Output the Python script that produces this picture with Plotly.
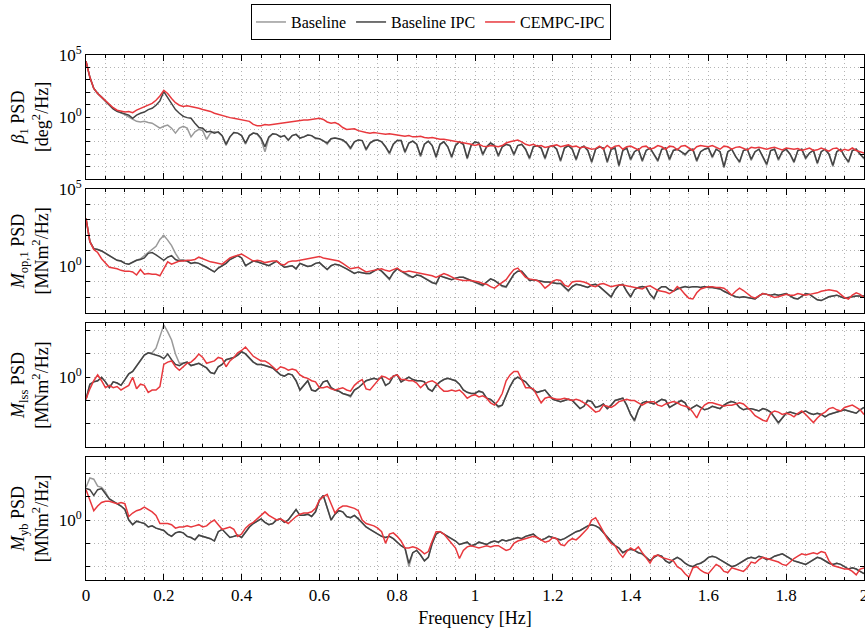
import plotly.graph_objects as go

# ---------------- data (log10 of PSD), frequency grid 0..2 Hz step 0.01 ----------------
freq = [i / 100 for i in range(201)]

beta_base_log10 = [
    4.5, 3.2, 2.3, 1.9, 1.6, 1.3, 0.95, 0.65, 0.45, 0.35,
    0.2, 0.0, -0.2, -0.35, -0.4, -0.35, -0.45, -0.5, -0.7, -0.9,
    -0.75, -0.65, -0.9, -1.3, -0.9, -0.75, -0.9, -1.6, -1.2, -1.0,
    -1.1, -1.8, -1.3, -1.2, -1.25, -1.5, -2.3, -1.6, -1.25, -1.3,
    -1.5, -2.2, -1.5, -1.3, -1.4, -1.8, -2.8, -1.7, -1.35, -1.4,
    -1.6, -1.5, -1.9, -1.5, -1.4, -1.7, -1.6, -1.45, -1.5, -1.75,
    -1.75, -1.9, -2.2, -1.75, -1.7, -1.75, -1.85, -2.1, -2.6, -2.0,
    -1.85, -1.9, -2.7, -2.1, -1.9, -1.85, -2.0, -2.4, -3.0, -2.2,
    -1.9, -1.9, -2.9, -2.1, -1.95, -2.2, -3.2, -2.2, -1.95, -2.3,
    -3.3, -2.2, -2.0, -2.4, -3.3, -2.3, -2.0, -2.2, -3.4, -2.3,
    -2.0, -2.1, -3.1, -2.4, -2.1, -2.3, -3.2, -2.4, -2.2, -2.3,
    -3.1, -2.3, -2.2, -2.6, -3.4, -2.4, -2.3, -2.5, -3.4, -2.4,
    -2.3, -2.6, -3.6, -2.5, -2.3, -2.6, -3.5, -2.5, -2.35, -2.7,
    -3.7, -2.6, -2.4, -2.5, -3.7, -2.6, -2.5, -4.0, -2.7, -2.5,
    -3.5, -2.8, -2.6, -3.6, -2.7, -2.5, -3.0, -3.6, -2.6, -2.5,
    -3.5, -2.7, -2.6, -2.8, -3.1, -2.7, -2.6, -3.6, -2.8, -2.6,
    -2.5, -3.3, -2.6, -2.8, -4.1, -2.8, -2.6, -3.2, -3.7, -2.7,
    -2.6, -3.5, -2.8, -2.6, -3.2, -3.9, -2.7, -2.6, -3.5, -2.8,
    -2.6, -3.0, -3.7, -2.7, -2.6, -3.4, -2.9, -2.7, -3.8, -2.8,
    -2.6, -3.0, -4.0, -2.8, -2.6, -3.2, -3.7, -2.7, -2.6, -3.0,
    -3.4]
beta_ipc_log10 = [
    4.5, 3.2, 2.3, 1.9, 1.6, 1.3, 0.95, 0.65, 0.45, 0.35,
    0.3, 0.15, -0.1, 0.15, 0.3, 0.4, 0.6, 0.7, 0.95, 1.3,
    2.05, 1.55, 1.0, 0.6, 0.3, 0.05, -0.05, -0.1, -0.5, -0.85,
    -0.9, -1.2, -1.15, -1.3, -1.2, -1.5, -2.2, -1.6, -1.25, -1.3,
    -1.5, -2.1, -1.5, -1.3, -1.35, -1.7, -2.4, -1.6, -1.35, -1.4,
    -1.6, -1.5, -1.85, -1.5, -1.4, -1.7, -1.6, -1.45, -1.5, -1.7,
    -1.75, -1.9, -2.1, -1.75, -1.7, -1.75, -1.85, -2.1, -2.5, -2.0,
    -1.85, -1.9, -2.6, -2.1, -1.9, -1.85, -2.0, -2.4, -2.9, -2.2,
    -1.9, -1.9, -2.8, -2.1, -1.95, -2.2, -3.1, -2.2, -1.95, -2.3,
    -3.2, -2.2, -2.0, -2.4, -3.2, -2.3, -2.0, -2.2, -3.3, -2.3,
    -2.0, -2.1, -3.0, -2.4, -2.1, -2.3, -3.1, -2.4, -2.2, -2.3,
    -3.0, -2.3, -2.2, -2.6, -3.3, -2.4, -2.3, -2.5, -3.3, -2.4,
    -2.3, -2.6, -3.5, -2.5, -2.3, -2.6, -3.4, -2.5, -2.35, -2.7,
    -3.6, -2.6, -2.4, -2.5, -3.6, -2.6, -2.5, -3.9, -2.7, -2.5,
    -3.4, -2.8, -2.6, -3.5, -2.7, -2.5, -3.0, -3.5, -2.6, -2.5,
    -3.4, -2.7, -2.6, -2.8, -3.0, -2.7, -2.6, -3.5, -2.8, -2.6,
    -2.5, -3.2, -2.6, -2.8, -4.0, -2.8, -2.6, -3.2, -3.6, -2.7,
    -2.6, -3.4, -2.8, -2.6, -3.2, -3.8, -2.7, -2.6, -3.4, -2.8,
    -2.6, -3.0, -3.6, -2.7, -2.6, -3.3, -2.9, -2.7, -3.7, -2.8,
    -2.6, -3.0, -3.9, -2.8, -2.6, -3.2, -3.6, -2.7, -2.6, -3.0,
    -3.3]
beta_cempc_log10 = [
    4.5, 3.2, 2.3, 1.9, 1.6, 1.3, 1.0, 0.75, 0.55, 0.45,
    0.4, 0.45, 0.35, 0.55, 0.7, 0.85, 0.95, 1.1, 1.35, 1.7,
    2.15, 1.9, 1.5, 1.15, 0.95, 0.85, 0.9, 0.85, 0.8, 0.7,
    0.6, 0.55, 0.45, 0.3, 0.2, 0.1, 0.05, -0.05, -0.1, -0.15,
    -0.2, -0.25, -0.35, -0.6, -0.7, -0.7, -0.6, -0.65, -0.6, -0.55,
    -0.55, -0.5, -0.45, -0.4, -0.35, -0.3, -0.25, -0.25, -0.2, -0.2,
    -0.1, -0.2, -0.4, -0.5, -0.45, -0.6, -0.85, -1.0, -1.0, -0.95,
    -1.1, -1.2, -1.25, -1.3, -1.25, -1.3, -1.35, -1.4, -1.35, -1.4,
    -1.45, -1.5, -1.55, -1.5, -1.6, -1.6, -1.55, -1.65, -1.7, -1.65,
    -1.75, -1.8, -1.8, -1.85, -1.9, -1.95, -2.0, -2.05, -2.1, -2.2,
    -2.3, -2.2, -2.35, -2.4, -2.3, -2.35, -2.4, -2.3, -2.1, -2.0,
    -1.9, -1.85, -2.0, -2.2, -2.3, -2.2, -2.35, -2.3, -2.45, -2.4,
    -2.3, -2.25, -2.4, -2.3, -2.25, -2.4, -2.35, -2.5, -2.4, -2.5,
    -2.6, -2.55, -2.35, -2.6, -2.3, -2.55, -2.35, -2.3, -2.6, -2.4,
    -2.35, -2.5, -2.65, -2.4, -2.35, -2.6, -2.5, -2.3, -2.4, -2.6,
    -2.35, -2.4, -2.65, -2.35, -2.3, -2.5, -2.7, -2.4, -2.3, -2.35,
    -2.4, -2.3, -2.45, -2.6, -2.35, -2.4, -2.6, -2.45, -2.4, -2.5,
    -2.65, -2.45, -2.5, -2.45, -2.5, -2.6, -2.5, -2.45, -2.55, -2.65,
    -2.5, -2.55, -2.6, -2.55, -2.7, -2.6, -2.5, -2.7, -2.65, -2.5,
    -2.6, -2.75, -2.55, -2.5, -2.75, -2.6, -2.7, -2.5, -2.7, -2.8,
    -2.9]

mop_base_log10 = [
    3.1, 1.6, 1.15, 1.1, 1.0, 0.85, 0.65, 0.5, 0.4, 0.35,
    0.2, 0.15, 0.3, 0.4, 0.5, 0.7, 0.95, 1.1, 1.3, 1.75,
    2.0, 1.7, 1.35, 0.85, 0.45, 0.4, 0.35, 0.2, 0.25, 0.2,
    0.1, -0.05, -0.2, -0.35, -0.1, 0.05, 0.2, 0.45, 0.6, 0.7,
    0.55, 0.05, 0.2, 0.35, 0.3, 0.2, 0.15, 0.05, 0.2, 0.35,
    0.15, -0.05, 0.0, 0.05, -0.15, 0.2, 0.1, 0.0, 0.05, 0.2,
    0.25, 0.0, -0.2, 0.05, 0.15, 0.1, 0.0, -0.15, -0.3, -0.45,
    -0.35, -0.4, -0.45, -0.45, -0.3, -0.15, -0.3, -0.55, -0.85, -0.4,
    -0.15, -0.3, -0.45, -0.65, -0.7, -0.55, -0.6, -0.75, -0.9, -1.05,
    -1.15, -0.6, -0.7, -0.8, -0.85, -0.75, -0.7, -0.7, -0.8, -0.9,
    -1.0, -1.15, -1.25, -1.0, -0.8, -0.9, -1.1, -1.3, -1.35, -0.9,
    -0.5, -0.3, -0.3, -0.6, -0.9, -0.85, -0.9, -0.95, -1.0, -1.0,
    -1.05, -1.1, -1.1, -1.35, -1.6, -1.3, -1.15, -1.2, -1.3, -1.35,
    -1.2, -1.15, -1.3, -1.5, -1.75, -2.0, -1.5, -1.2, -1.15, -1.6,
    -2.0, -1.5, -1.35, -1.3, -1.35, -1.8, -2.1, -1.5, -1.3, -1.3,
    -1.5, -1.6, -1.45, -1.35, -1.3, -1.35, -1.3, -1.3, -1.35, -1.3,
    -1.35, -1.35, -1.4, -1.45, -1.6, -1.75, -1.85, -1.95, -2.0, -1.95,
    -2.0, -2.05, -2.1, -1.9, -1.75, -1.8, -1.85, -1.8, -1.85, -1.8,
    -1.75, -1.9, -2.05, -2.1, -1.9, -1.75, -1.8, -2.0, -2.15, -2.2,
    -2.05, -1.95, -1.9, -1.85, -1.95, -2.05, -2.0, -1.95, -1.9, -1.9,
    -1.9]
mop_ipc_log10 = [
    3.1, 1.6, 1.15, 1.1, 1.0, 0.85, 0.65, 0.5, 0.4, 0.35,
    0.2, 0.15, 0.3, 0.4, 0.45, 0.55, 0.85, 0.9, 0.75, 0.55,
    0.4, 0.6, 0.7, 0.45, 0.35, 0.4, 0.35, 0.2, 0.25, 0.2,
    0.1, -0.05, -0.2, -0.35, -0.1, 0.05, 0.2, 0.45, 0.6, 0.7,
    0.55, 0.05, 0.2, 0.35, 0.3, 0.2, 0.15, 0.05, 0.2, 0.35,
    0.15, -0.05, 0.0, 0.05, -0.15, 0.2, 0.1, 0.0, 0.05, 0.2,
    0.25, 0.0, -0.2, 0.05, 0.15, 0.1, 0.0, -0.15, -0.3, -0.45,
    -0.35, -0.4, -0.45, -0.45, -0.3, -0.15, -0.3, -0.55, -0.8, -0.4,
    -0.15, -0.3, -0.45, -0.6, -0.7, -0.55, -0.6, -0.75, -0.9, -1.05,
    -1.1, -0.6, -0.7, -0.8, -0.85, -0.75, -0.7, -0.7, -0.8, -0.9,
    -1.0, -1.15, -1.2, -1.0, -0.8, -0.9, -1.1, -1.25, -1.3, -0.9,
    -0.5, -0.3, -0.3, -0.6, -0.9, -0.85, -0.9, -0.95, -1.0, -1.0,
    -1.05, -1.1, -1.1, -1.35, -1.55, -1.3, -1.15, -1.2, -1.3, -1.35,
    -1.2, -1.15, -1.3, -1.5, -1.75, -1.95, -1.5, -1.2, -1.15, -1.6,
    -1.95, -1.5, -1.35, -1.3, -1.35, -1.8, -2.05, -1.5, -1.3, -1.3,
    -1.5, -1.6, -1.45, -1.35, -1.3, -1.35, -1.3, -1.3, -1.35, -1.3,
    -1.35, -1.35, -1.4, -1.45, -1.6, -1.75, -1.85, -1.95, -2.0, -1.95,
    -2.0, -2.05, -2.1, -1.9, -1.75, -1.8, -1.85, -1.8, -1.85, -1.8,
    -1.75, -1.9, -2.05, -2.1, -1.9, -1.75, -1.8, -2.0, -2.15, -2.2,
    -2.05, -1.95, -1.9, -1.85, -1.95, -2.05, -2.0, -1.95, -1.9, -1.9,
    -1.9]
mop_cempc_log10 = [
    3.1, 1.6, 1.1, 0.9, 0.5, 0.2, -0.05, -0.1, -0.15, -0.25,
    -0.3, -0.3, -0.35, -0.55, -0.2, -0.5, -0.45, -0.5, -0.5, -0.6,
    -0.1, 0.3, 0.15, 0.25, 0.35, 0.35, 0.4, 0.4, 0.45, 0.6,
    0.5, 0.35, 0.3, 0.25, 0.2, 0.15, 0.35, 0.55, 0.65, 0.75,
    0.8, 0.65, 0.5, 0.35, 0.4, 0.35, 0.25, 0.3, 0.35, 0.35,
    0.15, 0.1, 0.3, 0.35, 0.35, 0.4, 0.45, 0.5, 0.55, 0.6,
    0.65, 0.55, 0.5, 0.45, 0.4, 0.35, 0.2, 0.0, -0.15, -0.1,
    -0.05, -0.2, -0.35, -0.3, -0.25, -0.2, -0.15, -0.25, -0.3, -0.2,
    -0.1, -0.3, -0.35, -0.3, -0.35, -0.4, -0.45, -0.5, -0.55, -0.6,
    -0.7, -0.6, -0.45, -0.55, -0.7, -0.8, -0.85, -0.9, -0.9, -0.9,
    -0.95, -1.0, -1.1, -1.15, -1.3, -1.4, -1.2, -1.0, -0.85, -0.5,
    -0.2, -0.1, -0.4, -0.7, -0.8, -0.85, -0.9, -1.1, -1.4, -1.2,
    -0.95, -0.85, -0.9, -1.2, -1.3, -1.0, -0.95, -0.95, -1.0, -1.1,
    -1.25, -1.3, -1.15, -1.1, -1.2, -1.3, -1.25, -1.2, -1.2, -1.25,
    -1.3, -1.35, -1.4, -1.45, -1.3, -1.25, -1.4, -1.55, -1.6, -1.65,
    -1.75, -1.6, -1.3, -1.5, -1.8, -2.05, -2.1, -1.7, -1.45, -1.35,
    -1.3, -1.3, -1.35, -1.35, -1.4, -1.6, -1.85, -1.6, -1.4, -1.55,
    -1.75, -1.95, -2.05, -1.9, -1.75, -1.8, -1.9, -2.0, -1.95, -1.85,
    -1.8, -1.85, -1.85, -1.75, -1.8, -1.85, -1.8, -1.75, -1.7, -1.6,
    -1.55, -1.5, -1.55, -1.6, -1.8, -2.0, -2.1, -1.85, -1.7, -1.8,
    -2.0]

lss_base_log10 = [
    -0.95, -0.3, -0.2, -0.15, 0.0, -0.2, -0.45, -0.2, -0.25, -0.35,
    -0.1, 0.15, 0.25, 0.5, 0.75, 0.95, 1.05, 1.05, 1.25, 1.8,
    2.25, 1.95, 1.6, 1.0, 0.6, 0.6, 0.65, 0.5, 0.55, 0.6,
    0.5, 0.4, 0.2, 0.15, 0.45, 0.55, 0.75, 0.8, 0.85, 0.95,
    1.1, 1.0, 0.8, 0.65, 0.55, 0.55, 0.5, 0.45, 0.4, 0.25,
    0.1, 0.05, 0.15, 0.1, -0.15, -0.55, -0.35, -0.15, -0.55, -0.6,
    -0.45, -0.2, -0.15, -0.45, -0.55, -0.6, -0.7, -0.75, -0.85, -0.55,
    -0.45, -0.3, -0.15, -0.1, -0.05, -0.1, 0.0, -0.35, -0.25, 0.05,
    0.1, -0.2, -0.1, 0.0, -0.1, -0.15, -0.15, -0.2, -0.5, -0.6,
    -0.35, -0.2, -0.1, -0.05, -0.1, -0.15, -0.3, -0.55, -0.65, -0.7,
    -0.7, -0.6, -0.65, -0.9, -0.95, -1.1, -1.3, -1.2, -0.8, -0.4,
    -0.1, 0.0, -0.1, -0.2, -0.4, -0.55, -0.65, -0.6, -0.55, -0.75,
    -0.95, -1.0, -1.05, -1.0, -0.95, -1.0, -1.2, -1.35, -1.25, -1.0,
    -1.05, -1.3, -1.25, -1.15, -1.35, -1.2, -1.0, -0.95, -0.9, -1.2,
    -1.6, -1.9, -1.4, -1.1, -1.05, -1.1, -1.15, -1.05, -0.95, -1.0,
    -1.3, -1.2, -1.1, -1.0, -1.1, -1.4, -1.3, -1.2, -1.3, -1.4,
    -1.35, -1.25, -1.3, -1.35, -1.2, -1.1, -1.05, -1.1, -1.3, -1.4,
    -1.35, -1.35, -1.4, -1.45, -1.35, -1.4, -1.5, -1.75, -2.0, -1.75,
    -1.55, -1.5, -1.55, -1.6, -1.5, -1.45, -1.55, -1.6, -1.55, -1.6,
    -1.7, -1.6, -1.55, -1.5, -1.45, -1.4, -1.45, -1.5, -1.55, -1.4,
    -1.3]
lss_ipc_log10 = [
    -0.95, -0.3, -0.2, -0.15, 0.0, -0.2, -0.45, -0.2, -0.25, -0.35,
    -0.1, 0.15, 0.25, 0.5, 0.75, 0.95, 1.05, 1.0, 0.95, 0.9,
    0.8, 1.0, 0.75, 0.55, 0.5, 0.6, 0.65, 0.5, 0.55, 0.6,
    0.5, 0.4, 0.2, 0.15, 0.45, 0.55, 0.75, 0.8, 0.85, 0.95,
    1.1, 1.0, 0.8, 0.65, 0.55, 0.55, 0.5, 0.45, 0.4, 0.25,
    0.1, 0.05, 0.15, 0.1, -0.15, -0.55, -0.35, -0.15, -0.55, -0.6,
    -0.45, -0.2, -0.15, -0.45, -0.55, -0.6, -0.7, -0.75, -0.8, -0.55,
    -0.45, -0.3, -0.15, -0.1, -0.05, -0.1, 0.0, -0.35, -0.25, 0.05,
    0.1, -0.2, -0.1, 0.0, -0.1, -0.15, -0.15, -0.2, -0.5, -0.6,
    -0.35, -0.2, -0.1, -0.05, -0.1, -0.15, -0.3, -0.55, -0.65, -0.7,
    -0.7, -0.6, -0.65, -0.9, -0.95, -1.1, -1.25, -1.2, -0.8, -0.4,
    -0.1, 0.0, -0.1, -0.2, -0.4, -0.55, -0.65, -0.6, -0.55, -0.75,
    -0.95, -1.0, -1.05, -1.0, -0.95, -1.0, -1.2, -1.35, -1.25, -1.0,
    -1.05, -1.3, -1.25, -1.15, -1.35, -1.2, -1.0, -0.95, -0.9, -1.2,
    -1.6, -1.85, -1.4, -1.1, -1.05, -1.1, -1.15, -1.05, -0.95, -1.0,
    -1.3, -1.2, -1.1, -1.0, -1.1, -1.4, -1.3, -1.2, -1.3, -1.4,
    -1.35, -1.25, -1.3, -1.35, -1.2, -1.1, -1.05, -1.1, -1.3, -1.4,
    -1.35, -1.35, -1.4, -1.45, -1.35, -1.4, -1.5, -1.75, -1.95, -1.75,
    -1.55, -1.5, -1.55, -1.6, -1.5, -1.45, -1.55, -1.6, -1.55, -1.6,
    -1.7, -1.6, -1.55, -1.5, -1.45, -1.4, -1.45, -1.5, -1.55, -1.4,
    -1.3]
lss_cempc_log10 = [
    -0.95, -0.5, -0.15, 0.1, -0.15, -0.45, -0.35, -0.45, -0.4, -0.55,
    -0.45, -0.35, 0.0, -0.5, -0.3, -0.35, -0.65, -0.55, -0.55, -0.4,
    0.55, 0.65, 0.7, 0.45, 0.3, 0.45, 0.6, 0.65, 0.8, 1.0,
    0.85, 0.6, 0.65, 0.7, 0.85, 0.8, 0.45, 0.7, 0.85, 1.05,
    1.15, 1.3, 1.1, 0.9, 0.8, 0.7, 0.7, 0.6, 0.45, 0.3,
    0.45, 0.4, 0.3, 0.35, 0.3, 0.1, 0.0, -0.05, -0.15, -0.2,
    -0.45, -0.45, -0.4, -0.5, -0.55, -0.5, -0.45, -0.55, -0.6, -0.35,
    -0.2, -0.1, -0.5, -0.55, -0.35, -0.15, 0.05, 0.0, -0.1, 0.05,
    0.1, -0.1, -0.1, -0.15, -0.15, -0.25, -0.45, -0.3, -0.2, -0.15,
    -0.25, -0.45, -0.6, -0.6, -0.55, -0.6, -0.55, -0.7, -0.9, -0.8,
    -0.75, -0.85, -0.8, -0.9, -1.1, -1.2, -1.0, -0.7, -0.15, 0.1,
    0.25, 0.25, -0.1, -0.45, -0.45, -0.5, -0.8, -1.1, -0.9, -0.85,
    -0.9, -0.95, -0.95, -0.9, -0.95, -1.0, -0.95, -1.0, -1.1, -1.2,
    -1.35, -1.5, -1.45, -1.2, -1.25, -1.3, -1.2, -1.05, -1.0, -0.95,
    -1.0, -1.0, -1.1, -1.2, -1.1, -1.05, -1.05, -1.2, -1.25, -1.15,
    -1.1, -1.05, -1.1, -1.2, -1.25, -1.3, -1.5, -1.75, -1.4, -1.2,
    -1.1, -1.1, -1.15, -1.2, -1.25, -1.2, -1.2, -1.15, -1.1, -1.15,
    -1.3, -1.45, -1.65, -1.75, -1.85, -1.9, -1.55, -1.45, -1.5, -1.6,
    -1.55, -1.6, -1.7, -1.55, -1.45, -1.6, -1.8, -1.95, -1.75, -1.6,
    -1.5, -1.35, -1.3, -1.4, -1.45, -1.3, -1.25, -1.2, -1.3, -1.4,
    -1.6]

yb_base_log10 = [
    1.4, 1.8, 1.75, 1.45, 1.4, 1.2, 0.9, 0.8, 0.7, 0.6,
    0.45, 0.0, -0.2, -0.05, -0.1, -0.15, -0.3, -0.25, -0.35, -0.4,
    -0.45, -0.6, -0.7, -0.55, -0.5, -0.55, -0.7, -0.75, -0.85, -0.65,
    -0.7, -0.75, -0.8, -0.9, -0.5, -0.4, -0.6, -0.75, -0.7, -0.65,
    -0.75, -0.5, -0.3, -0.15, -0.05, 0.05, -0.1, -0.2, -0.15, 0.0,
    0.05, -0.1, 0.0, 0.2, 0.45, 0.2, 0.2, 0.25, 0.15, 0.35,
    0.85, 1.05, 0.55, 0.0, 0.25, 0.4, 0.35, 0.15, 0.1, 0.2,
    0.05, -0.15, -0.3, -0.4, -0.5, -0.6, -0.7, -0.75, -0.7, -0.8,
    -0.95, -1.1, -1.2, -2.0, -1.4, -1.3, -1.5, -1.75, -1.6, -1.0,
    -0.6, -0.5, -0.6, -0.7, -0.8, -0.9, -1.05, -1.0, -0.95, -1.1,
    -1.05, -0.95, -1.0, -1.05, -0.95, -0.9, -0.95, -0.85, -0.9, -0.85,
    -0.8, -0.75, -0.8, -0.7, -0.65, -0.6, -0.75, -0.85, -0.8, -0.7,
    -0.75, -0.8, -0.85, -0.8, -0.7, -0.6, -0.5, -0.45, -0.35, -0.25,
    -0.2, -0.25, -0.35, -0.55, -0.75, -0.95, -1.1, -1.2, -1.4, -1.3,
    -1.25, -1.3, -1.4, -1.45, -1.6, -1.75, -1.6, -1.5, -1.55, -1.75,
    -1.85, -1.7, -1.6, -1.7, -1.85, -1.95, -2.0, -1.9, -1.85, -1.75,
    -1.6, -1.55, -1.6, -1.7, -1.8, -1.9, -2.0, -1.95, -1.85, -1.75,
    -1.65, -1.6, -1.65, -1.55, -1.6, -1.7, -1.65, -1.55, -1.5, -1.45,
    -1.55, -1.65, -1.75, -1.8, -1.85, -1.9, -1.8, -1.7, -1.6, -1.65,
    -1.75, -1.85, -1.9, -1.85, -1.9, -2.0, -2.1, -2.05, -2.1, -2.2,
    -2.3]
yb_ipc_log10 = [
    1.35, 1.3, 1.05, 1.3, 1.35, 1.15, 0.9, 0.8, 0.7, 0.6,
    0.45, 0.0, -0.2, -0.05, -0.1, -0.15, -0.3, -0.25, -0.35, -0.4,
    -0.45, -0.6, -0.7, -0.55, -0.5, -0.55, -0.7, -0.75, -0.85, -0.65,
    -0.7, -0.75, -0.8, -0.9, -0.5, -0.4, -0.6, -0.75, -0.7, -0.65,
    -0.75, -0.5, -0.3, -0.15, -0.05, 0.05, -0.1, -0.2, -0.15, 0.0,
    0.05, -0.1, 0.0, 0.2, 0.45, 0.2, 0.2, 0.25, 0.15, 0.35,
    0.85, 1.05, 0.55, 0.0, 0.25, 0.4, 0.35, 0.15, 0.1, 0.2,
    0.05, -0.15, -0.3, -0.4, -0.5, -0.6, -0.7, -0.75, -0.7, -0.8,
    -0.95, -1.1, -1.2, -1.85, -1.4, -1.3, -1.5, -1.75, -1.6, -1.0,
    -0.6, -0.5, -0.6, -0.7, -0.8, -0.9, -1.05, -1.0, -0.95, -1.1,
    -1.05, -0.95, -1.0, -1.05, -0.95, -0.9, -0.95, -0.85, -0.9, -0.85,
    -0.8, -0.75, -0.8, -0.7, -0.65, -0.6, -0.75, -0.85, -0.8, -0.7,
    -0.75, -0.8, -0.85, -0.8, -0.7, -0.6, -0.5, -0.45, -0.35, -0.25,
    -0.2, -0.25, -0.35, -0.55, -0.75, -0.95, -1.1, -1.2, -1.4, -1.3,
    -1.25, -1.3, -1.4, -1.45, -1.6, -1.75, -1.6, -1.5, -1.55, -1.75,
    -1.85, -1.7, -1.6, -1.7, -1.85, -1.95, -2.0, -1.9, -1.85, -1.75,
    -1.6, -1.55, -1.6, -1.7, -1.8, -1.9, -2.0, -1.95, -1.85, -1.75,
    -1.65, -1.6, -1.65, -1.55, -1.6, -1.7, -1.65, -1.55, -1.5, -1.45,
    -1.55, -1.65, -1.75, -1.8, -1.85, -1.9, -1.8, -1.7, -1.6, -1.65,
    -1.75, -1.85, -1.9, -1.85, -1.9, -2.0, -2.1, -2.05, -2.1, -2.2,
    -2.3]
yb_cempc_log10 = [
    1.3, 0.85, 0.4, 0.6, 0.75, 0.8, 0.8, 0.75, 0.7, 0.75,
    0.7, 0.15, 0.3, 0.4, 0.45, 0.55, 0.45, 0.35, 0.2, -0.15,
    -0.15, -0.15, -0.2, -0.35, -0.3, -0.3, -0.25, -0.3, -0.25, -0.2,
    -0.3, -0.25, -0.1, 0.0, -0.2, -0.4, -0.35, -0.3, -0.4, -0.7,
    -0.6, -0.35, -0.2, -0.1, 0.05, 0.2, 0.35, 0.2, 0.1, 0.0,
    0.05, -0.05, -0.15, 0.0, 0.15, 0.25, 0.3, 0.3, 0.35, 0.5,
    0.85, 1.0, 1.1, 0.7, 0.3, 0.5, 0.6, 0.6, 0.55, 0.5,
    0.4, 0.0, -0.15, -0.2, -0.25, -0.35, -0.5, -1.0, -0.6, -0.55,
    -0.7, -0.9, -1.2, -1.2, -1.15, -1.2, -1.3, -1.45, -1.35, -0.9,
    -0.5, -0.5, -0.6, -0.8, -1.0, -1.2, -1.65, -1.3, -1.15, -1.1,
    -1.15, -1.2, -1.15, -1.1, -1.15, -1.1, -1.1, -1.2, -1.3, -1.25,
    -1.0, -0.9, -0.85, -0.8, -0.75, -0.7, -0.75, -0.85, -0.95, -0.9,
    -0.75, -0.8, -1.05, -1.1, -0.9, -0.8, -0.85, -0.7, -0.5, -0.35,
    0.0, 0.1, -0.2, -0.5, -0.8, -1.0, -1.1, -1.4, -1.6, -1.35,
    -1.2, -1.3, -1.15, -1.4, -1.6, -1.85, -1.55, -1.5, -1.6, -1.65,
    -1.7, -1.75, -2.0, -2.1, -2.3, -2.45, -2.05, -2.0, -2.15, -2.25,
    -2.3, -2.1, -1.9, -2.0, -2.2, -2.25, -2.05, -2.1, -2.15, -2.2,
    -2.05, -1.8, -1.85, -1.7, -1.6, -1.65, -1.7, -1.75, -1.8, -1.9,
    -1.95, -1.8, -1.65, -1.55, -1.45, -1.5, -1.45, -1.4, -1.45, -1.35,
    -1.4, -1.75, -1.95, -2.0, -2.05, -2.1, -2.1, -2.2, -2.35, -2.1,
    -2.05]

series_names = ["Baseline", "Baseline IPC", "CEMPC-IPC"]
series_colors = ["#9a9a9a", "#444444", "#e8383d"]

panel_data = [
    [beta_base_log10, beta_ipc_log10, beta_cempc_log10],
    [mop_base_log10, mop_ipc_log10, mop_cempc_log10],
    [lss_base_log10, lss_ipc_log10, lss_cempc_log10],
    [yb_base_log10, yb_ipc_log10, yb_cempc_log10],
]
panel_titles = [
    "<i>β</i><sub>1</sub> PSD<br>[deg<sup>2</sup>/Hz]",
    "<i>M</i><sub>op,1</sub> PSD<br>[MNm<sup>2</sup>/Hz]",
    "<i>M</i><sub>lss</sub> PSD<br>[MNm<sup>2</sup>/Hz]",
    "<i>M</i><sub>yb</sub> PSD<br>[MNm<sup>2</sup>/Hz]",
]
panel_log_ranges = [[-5, 5], [-3, 5], [-3, 2.33], [-2.57, 2.7]]
panel_labelled_decades = [[5, 0], [5, 0], [0], [0]]
x_ticks = [0, 0.2, 0.4, 0.6, 0.8, 1, 1.2, 1.4, 1.6, 1.8, 2]
x_ticktext = ["0", "0.2", "0.4", "0.6", "0.8", "1", "1.2", "1.4", "1.6", "1.8", "2"]

for s in [freq] + [v for p in panel_data for v in p]:
    assert len(s) == 201, len(s)

# ---------------- figure ----------------
FONT = "Liberation Serif"
GRID = "#b4b4b4"
GDASH = "1px,3px"
domains = [[0.7638, 1.0], [0.5086, 0.7448], [0.2533, 0.4895], [0.0, 0.2343]]

fig = go.Figure()
for i, series in enumerate(panel_data):
    k = "" if i == 0 else str(i + 1)
    for j, vals in enumerate(series):
        fig.add_trace(go.Scatter(
            x=freq, y=[10 ** v for v in vals], mode="lines",
            name=series_names[j], legendgroup=series_names[j], showlegend=(i == 0),
            line=dict(color=series_colors[j], width=1.5),
            xaxis="x" + k, yaxis="y" + k,
        ))
    lo, hi = panel_log_ranges[i]
    tickvals = [10 ** d for d in panel_labelled_decades[i]]
    ticktext = ["10<sup>%d</sup>" % d for d in panel_labelled_decades[i]]
    fig.layout["xaxis" + k] = dict(
        domain=[0, 1], range=[0, 2], anchor="y" + k,
        tickmode="array", tickvals=x_ticks, ticktext=x_ticktext,
        ticks="inside", ticklen=6, tickcolor="black",
        showticklabels=(i == 3), ticklabeloverflow="allow",
        tickfont=dict(family=FONT, size=17, color="black"),
        showgrid=True, gridcolor=GRID, griddash=GDASH, gridwidth=1,
        minor=dict(tickmode="linear", dtick=0.05, tick0=0, ticks="inside", ticklen=3,
                   tickcolor="black", showgrid=True, gridcolor=GRID, griddash=GDASH,
                   gridwidth=1),
        showline=True, linecolor="black", linewidth=1, mirror="ticks", zeroline=False,
        title=(dict(text="Frequency [Hz]", font=dict(family=FONT, size=18, color="black"),
                    standoff=6) if i == 3 else None),
    )
    fig.layout["yaxis" + k] = dict(
        domain=domains[i], type="log", range=[lo, hi], anchor="x" + k,
        tickmode="array", tickvals=tickvals, ticktext=ticktext,
        ticks="inside", ticklen=4, tickcolor="black",
        tickfont=dict(family=FONT, size=17, color="black"),
        showgrid=True, gridcolor=GRID, griddash=GDASH, gridwidth=1,
        minor=dict(tickmode="linear", tick0=0, dtick=1, ticks="inside", ticklen=4,
                   tickcolor="black", showgrid=True, gridcolor=GRID, griddash=GDASH,
                   gridwidth=1),
        showline=True, linecolor="black", linewidth=1, mirror="ticks", zeroline=False,
        title=dict(text=panel_titles[i], font=dict(family=FONT, size=18, color="black"),
                   standoff=5),
    )

fig.update_layout(
    width=865, height=634,
    margin=dict(l=86, r=1, t=55, b=54, autoexpand=False),
    plot_bgcolor="white", paper_bgcolor="white",
    font=dict(family=FONT, size=16, color="black"),
    legend=dict(orientation="h", x=0.4434, xanchor="center", y=1.097, yanchor="top",
                bordercolor="black", borderwidth=1,
                font=dict(family=FONT, size=16, color="black"),
                bgcolor="white", tracegroupgap=0),
)

fig.write_html("out.html")
